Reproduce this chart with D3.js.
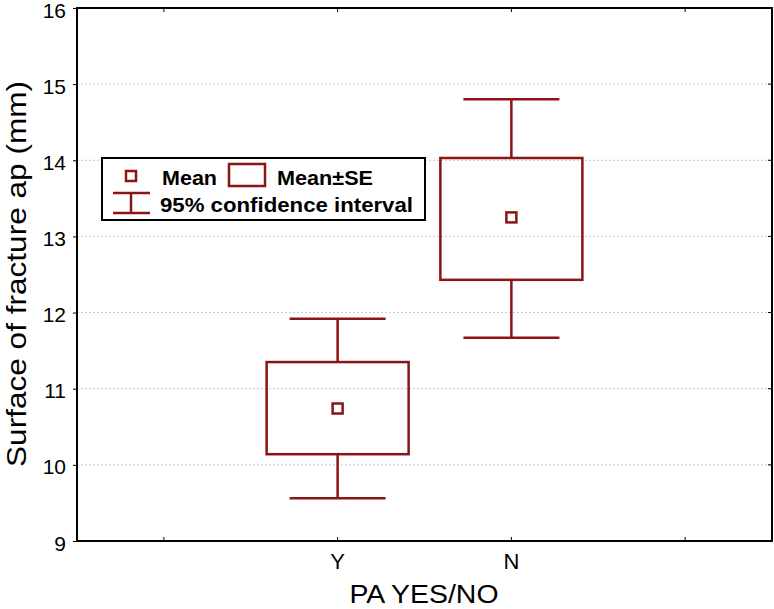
<!DOCTYPE html>
<html>
<head>
<meta charset="utf-8">
<script src="https://cdn.jsdelivr.net/npm/d3@7"></script>
<style>
  body { margin: 0; background: #fff; }
  svg { display: block; font-family: Arial, "Liberation Sans", sans-serif; }
</style>
</head>
<body>
<svg id="chart" width="774" height="609"></svg>
<script>
// DATA
const categories = ["Y", "N"];
const means = [10.74, 13.25];
const se_low = [10.14, 12.43];
const se_high = [11.35, 14.03];
const ci_low = [9.56, 11.67];
const ci_high = [11.92, 14.80];
const y_ticks = [9, 10, 11, 12, 13, 14, 15, 16];

const color = "#8b1414";
const svg = d3.select("#chart");
const margin = {left: 77, right: 2, top: 8, bottom: 68};
const W = 774, H = 609;

// x uses 4 bands: empty slot each side, like the original
const x = d3.scaleBand()
    .domain(["_a", ...categories, "_b"])
    .range([margin.left, W - margin.right]);
const y = d3.scaleLinear().domain([9, 16]).range([H - margin.bottom, margin.top]);
const cx = c => x(c) + x.bandwidth() / 2;

// grid
svg.append("g").selectAll("line")
    .data(y_ticks.filter(t => t > 9 && t < 16))
    .join("line")
    .attr("x1", margin.left).attr("x2", W - margin.right)
    .attr("y1", d => y(d)).attr("y2", d => y(d))
    .attr("stroke", "#c8c8c8").attr("stroke-width", 1)
    .attr("stroke-dasharray", "2,2");

// y axis labels + ticks
const yAxis = svg.append("g").attr("transform", `translate(${margin.left},0)`)
    .call(d3.axisLeft(y).tickValues(y_ticks).tickSize(4).tickFormat(d3.format("d")));
yAxis.select(".domain").remove();
yAxis.selectAll("text").attr("font-size", 21).attr("x", -11).attr("dy", "0.43em").attr("fill", "#000");
yAxis.selectAll("line").attr("stroke", "#000");

// x axis
const xAxis = svg.append("g").attr("transform", `translate(0,${H - margin.bottom})`)
    .call(d3.axisBottom(x).tickSize(-4).tickFormat(d => categories.includes(d) ? d : ""));
xAxis.select(".domain").remove();
xAxis.selectAll("text").attr("font-size", 22).attr("y", 12).attr("fill", "#000");
xAxis.selectAll("line").attr("stroke", "#000");

// top ticks
svg.append("g").selectAll("line").data(x.domain()).join("line")
    .attr("x1", d => cx(d)).attr("x2", d => cx(d))
    .attr("y1", margin.top).attr("y2", margin.top + 4)
    .attr("stroke", "#000");
// right ticks
svg.append("g").selectAll("line").data(y_ticks).join("line")
    .attr("x1", W - margin.right).attr("x2", W - margin.right - 4)
    .attr("y1", d => y(d)).attr("y2", d => y(d))
    .attr("stroke", "#000");

// frame
svg.append("rect")
    .attr("x", margin.left).attr("y", margin.top)
    .attr("width", W - margin.left - margin.right)
    .attr("height", H - margin.top - margin.bottom)
    .attr("fill", "none").attr("stroke", "#000").attr("stroke-width", 2);

// boxes
const boxHalf = 71, capHalf = 48;
const g = svg.append("g").attr("stroke", color).attr("stroke-width", 2.5).attr("fill", "none");
categories.forEach((c, i) => {
    const xc = cx(c);
    // whiskers
    g.append("line").attr("x1", xc).attr("x2", xc).attr("y1", y(se_high[i])).attr("y2", y(ci_high[i]));
    g.append("line").attr("x1", xc).attr("x2", xc).attr("y1", y(se_low[i])).attr("y2", y(ci_low[i]));
    g.append("line").attr("x1", xc - capHalf).attr("x2", xc + capHalf).attr("y1", y(ci_high[i])).attr("y2", y(ci_high[i]));
    g.append("line").attr("x1", xc - capHalf).attr("x2", xc + capHalf).attr("y1", y(ci_low[i])).attr("y2", y(ci_low[i]));
    // SE box
    g.append("rect").attr("x", xc - boxHalf).attr("y", y(se_high[i]))
        .attr("width", boxHalf * 2).attr("height", y(se_low[i]) - y(se_high[i]));
    // mean marker
    g.append("rect").attr("x", xc - 5).attr("y", y(means[i]) - 5)
        .attr("width", 10).attr("height", 10).attr("fill", "#fff");
});

// legend
const lg = svg.append("g");
lg.append("rect").attr("x", 102).attr("y", 158).attr("width", 323).attr("height", 62)
    .attr("fill", "#fff").attr("stroke", "#000").attr("stroke-width", 2);
lg.append("rect").attr("x", 126).attr("y", 171).attr("width", 10).attr("height", 10)
    .attr("fill", "none").attr("stroke", color).attr("stroke-width", 2.5);
lg.append("rect").attr("x", 229).attr("y", 164).attr("width", 36).attr("height", 22)
    .attr("fill", "none").attr("stroke", color).attr("stroke-width", 2.5);
lg.append("line").attr("x1", 113).attr("x2", 150).attr("y1", 193).attr("y2", 193)
    .attr("stroke", color).attr("stroke-width", 2.5);
lg.append("line").attr("x1", 113).attr("x2", 150).attr("y1", 213).attr("y2", 213)
    .attr("stroke", color).attr("stroke-width", 2.5);
lg.append("line").attr("x1", 131).attr("x2", 131).attr("y1", 193).attr("y2", 213)
    .attr("stroke", color).attr("stroke-width", 2.5);
const lt = (tx, ty, s, len) => lg.append("text").attr("x", tx).attr("y", ty)
    .attr("font-size", 21).attr("font-weight", "bold")
    .attr("textLength", len).attr("lengthAdjust", "spacingAndGlyphs").text(s);
lt(162, 185, "Mean", 55);
lt(277, 185, "Mean±SE", 96);
lt(160, 212, "95% confidence interval", 253);

// axis titles
svg.append("text").attr("x", 424).attr("y", 603)
    .attr("text-anchor", "middle").attr("font-size", 26)
    .attr("textLength", 149).attr("lengthAdjust", "spacingAndGlyphs").text("PA YES/NO");
svg.append("text")
    .attr("transform", `translate(26,274) rotate(-90)`)
    .attr("text-anchor", "middle").attr("font-size", 28)
    .attr("textLength", 386).attr("lengthAdjust", "spacingAndGlyphs")
    .text("Surface of fracture ap (mm)");
</script>
</body>
</html>
